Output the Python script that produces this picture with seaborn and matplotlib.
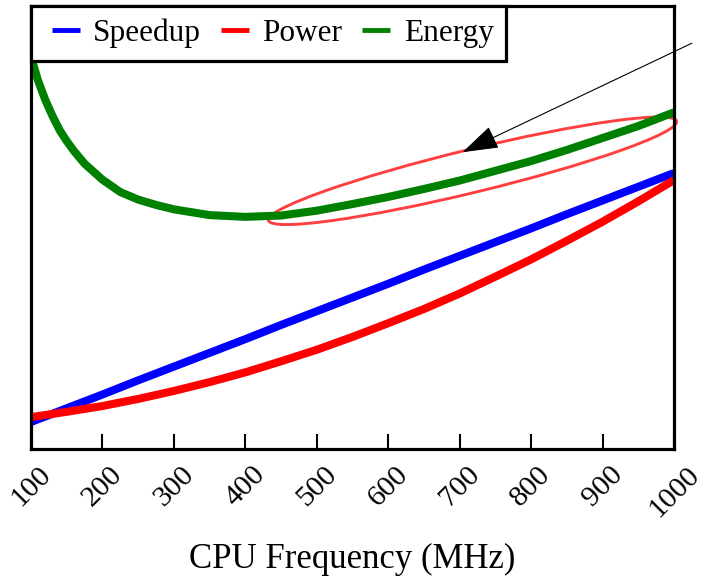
import matplotlib
matplotlib.use("Agg")
import matplotlib.pyplot as plt
from matplotlib.lines import Line2D
from matplotlib.patches import Ellipse
from matplotlib.transforms import IdentityTransform
import pandas as pd
import seaborn as sns

# CPU frequency sweep (MHz)
freq = [100, 150, 200, 250, 300, 350, 400, 450, 500, 550,
        600, 650, 700, 750, 800, 850, 900, 950, 1000]

# normalised metrics (arbitrary units, 0..1)
speedup = [0.061, 0.092, 0.123, 0.155, 0.186, 0.217, 0.248, 0.280, 0.311, 0.342,
           0.373, 0.405, 0.436, 0.467, 0.498, 0.530, 0.561, 0.592, 0.623]
power = [0.072, 0.084, 0.097, 0.113, 0.131, 0.151, 0.173, 0.198, 0.224, 0.253,
         0.284, 0.316, 0.351, 0.389, 0.428, 0.470, 0.513, 0.559, 0.607]

energy_freq = [100, 110, 120, 130, 140, 150, 160, 175, 200, 225, 250, 275, 300,
               350, 400, 450, 500, 550, 600, 650, 700, 750, 800, 850, 900, 950, 1000]
energy = [0.885, 0.831, 0.788, 0.752, 0.720, 0.695, 0.673, 0.644, 0.608, 0.580,
          0.563, 0.551, 0.541, 0.528, 0.524, 0.527, 0.538, 0.553, 0.569, 0.587,
          0.606, 0.628, 0.650, 0.675, 0.702, 0.729, 0.760]

series_names = ["Speedup", "Power", "Energy"]
series_colors = ["#0000ff", "#ff0000", "#008000"]
xticks = [100, 200, 300, 400, 500, 600, 700, 800, 900, 1000]

# highlighted region and arrow (data coordinates)
focus_center = (718, 0.628)
arrow_tip = (704, 0.670)
arrow_tail = (1025, 0.916)

sns.set_theme(style="white")
plt.rcParams["font.family"] = ["Liberation Serif", "DejaVu Serif"]
plt.rcParams["text.color"] = "black"
plt.rcParams["axes.labelcolor"] = "black"
plt.rcParams["xtick.color"] = "black"

fig = plt.figure(figsize=(7.04, 5.82), dpi=100)
ax = fig.add_axes([31 / 704, 1 - 449 / 582, 643 / 704, 443 / 582])

frames = [
    pd.DataFrame({"freq": freq, "value": speedup}),
    pd.DataFrame({"freq": freq, "value": power}),
    pd.DataFrame({"freq": energy_freq, "value": energy}),
]

lw = 5.8
for df, c in zip(frames, series_colors):
    sns.lineplot(data=df, x="freq", y="value", ax=ax, color=c, lw=lw,
                 solid_joinstyle="round", solid_capstyle="butt")

ax.set_xlim(100, 1000)
ax.set_ylim(0, 1)
ax.set_xticks(xticks)
ax.set_xticklabels([str(t) for t in xticks], rotation=45, ha="center", fontsize=21.5)
ax.set_yticks([])
ax.set_ylabel("")
ax.set_xlabel("CPU Frequency (MHz)", fontsize=25, labelpad=15)

for s in ax.spines.values():
    s.set_linewidth(2.3)
    s.set_color("black")
ax.tick_params(axis="x", direction="in", length=11, width=1.5, colors="black",
               bottom=True, top=False, pad=9)

handles = [Line2D([], [], linestyle="none", marker="_", markersize=19.5,
                  markeredgewidth=3.5, color=c) for c in series_colors]
leg = ax.legend(handles, series_names, loc="upper left", ncol=3, fontsize=22.5,
                frameon=True, fancybox=False, borderaxespad=0, numpoints=1,
                handlelength=1.41, handletextpad=0.18, columnspacing=0.37,
                borderpad=0.40)
frame = leg.get_frame()
frame.set_edgecolor("black")
frame.set_linewidth(2.3)
frame.set_alpha(1)

# ellipse around the rising part of the energy curve
cx, cy = ax.transData.transform(focus_center)
ell = Ellipse((cx, cy), width=420, height=43, angle=13.65, transform=IdentityTransform(),
              fill=False, edgecolor="#ff4040", linewidth=2.1, clip_on=False)
ax.add_artist(ell)

ax.annotate("", xy=arrow_tip, xytext=arrow_tail, annotation_clip=False,
            arrowprops=dict(arrowstyle="-|>,head_length=23,head_width=7.5",
                            mutation_scale=1, color="black", lw=0.8,
                            shrinkA=0, shrinkB=0))

fig.savefig("out.png", dpi=100)
